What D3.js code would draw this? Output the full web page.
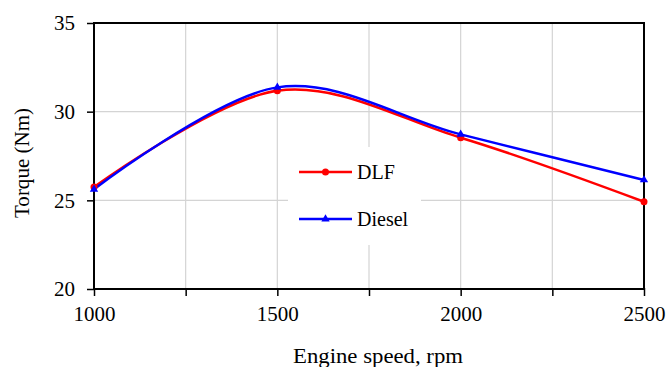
<!DOCTYPE html>
<html><head><meta charset="utf-8">
<script src="https://cdn.jsdelivr.net/npm/d3@7"></script>
<style>body{margin:0;background:#fff}svg{display:block}text{font-family:"Liberation Serif","Times New Roman",serif;fill:#000}</style>
</head><body><svg id="c" width="666" height="367"></svg>
<script>
const speeds = [1000, 1500, 2000, 2500];
const dlf = [25.75, 31.18, 28.53, 24.92];
const diesel = [25.62, 31.37, 28.72, 26.15];
const xTickLabels = [1000, 1500, 2000, 2500];
const xGrid = [1250, 1500, 1750, 2000, 2250];
const yTicks = [20, 25, 30, 35];
const seriesNames = ["DLF", "Diesel"];

const svg = d3.select("#c");
const m = {l: 94, r: 644, t: 23, b: 289};
const x = d3.scaleLinear().domain([1000, 2500]).range([m.l, m.r]);
const y = d3.scaleLinear().domain([20, 35]).range([m.b, m.t]);

// grid
svg.append("g").selectAll("line").data(xGrid).join("line")
  .attr("x1", d => x(d)).attr("x2", d => x(d)).attr("y1", m.t).attr("y2", m.b)
  .attr("stroke", "#d4d4d4").attr("stroke-width", 1.2);
svg.append("g").selectAll("line").data([25, 30]).join("line")
  .attr("y1", d => y(d)).attr("y2", d => y(d)).attr("x1", m.l).attr("x2", m.r)
  .attr("stroke", "#d4d4d4").attr("stroke-width", 1.2);

// frame
svg.append("rect").attr("x", m.l).attr("y", m.t).attr("width", m.r - m.l).attr("height", m.b - m.t)
  .attr("fill", "none").attr("stroke", "#000").attr("stroke-width", 2);

// axes
const fs = "20px";
const xa = svg.append("g").attr("transform", `translate(0,${m.b})`)
  .call(d3.axisBottom(x).tickValues(d3.range(1000, 2501, 250)).tickSize(7).tickFormat(d => xTickLabels.includes(d) ? d : ""));
xa.select(".domain").remove();
xa.selectAll("line").attr("stroke", "#000").attr("stroke-width", 1.5).attr("y1", -1);
xa.selectAll("text").attr("font-size", "21px").attr("y", 17).attr("dy", "0.71em").attr("font-family", "Liberation Serif");
const ya = svg.append("g").attr("transform", `translate(${m.l},0)`)
  .call(d3.axisLeft(y).tickValues(yTicks).tickSize(7).tickPadding(12));
ya.select(".domain").remove();
ya.selectAll("line").attr("stroke", "#000").attr("stroke-width", 1.5).attr("x1", 1);
ya.selectAll("text").attr("font-size", "21px").attr("x", -19).attr("font-family", "Liberation Serif");

// titles
svg.append("text").attr("x", 378).attr("y", 363).attr("text-anchor", "middle").attr("font-size", fs)
  .attr("textLength", 170).attr("lengthAdjust", "spacingAndGlyphs").text("Engine speed, rpm");
svg.append("text").attr("transform", "translate(29,163) rotate(-90)").attr("text-anchor", "middle").attr("font-size", fs)
  .attr("textLength", 110).attr("lengthAdjust", "spacingAndGlyphs").text("Torque (Nm)");

// lines
const line = d3.line().x(d => x(d[0])).y(d => y(d[1])).curve(d3.curveCardinal.tension(0));
const dlfPts = speeds.map((s, i) => [s, dlf[i]]);
const dieselPts = speeds.map((s, i) => [s, diesel[i]]);
svg.append("path").attr("d", line(dlfPts)).attr("fill", "none").attr("stroke", "#ff0000").attr("stroke-width", 2.5);
svg.append("path").attr("d", line(dieselPts)).attr("fill", "none").attr("stroke", "#0000ff").attr("stroke-width", 2.5);
svg.append("g").selectAll("circle").data(dlfPts).join("circle")
  .attr("cx", d => x(d[0])).attr("cy", d => y(d[1])).attr("r", 3.5).attr("fill", "#ff0000");
const tri = d3.symbol().type(d3.symbolTriangle).size(30);
svg.append("g").selectAll("path").data(dieselPts).join("path")
  .attr("d", tri).attr("transform", d => `translate(${x(d[0])},${y(d[1])})`).attr("fill", "#0000ff");

// legend
const lg = svg.append("g");
lg.append("rect").attr("x", 288).attr("y", 147).attr("width", 133).attr("height", 98).attr("fill", "#fff");
const items = [{n: seriesNames[0], c: "#ff0000", y: 172, s: "c"}, {n: seriesNames[1], c: "#0000ff", y: 219, s: "t"}];
items.forEach(it => {
  lg.append("line").attr("x1", 299).attr("x2", 352).attr("y1", it.y).attr("y2", it.y).attr("stroke", it.c).attr("stroke-width", 2.5);
  if (it.s === "c") lg.append("circle").attr("cx", 325.5).attr("cy", it.y).attr("r", 3.5).attr("fill", it.c);
  else lg.append("path").attr("d", tri).attr("transform", `translate(325.5,${it.y})`).attr("fill", it.c);
  lg.append("text").attr("x", 357).attr("y", it.y + 7).attr("font-size", fs).text(it.n);
});
</script></body></html>
